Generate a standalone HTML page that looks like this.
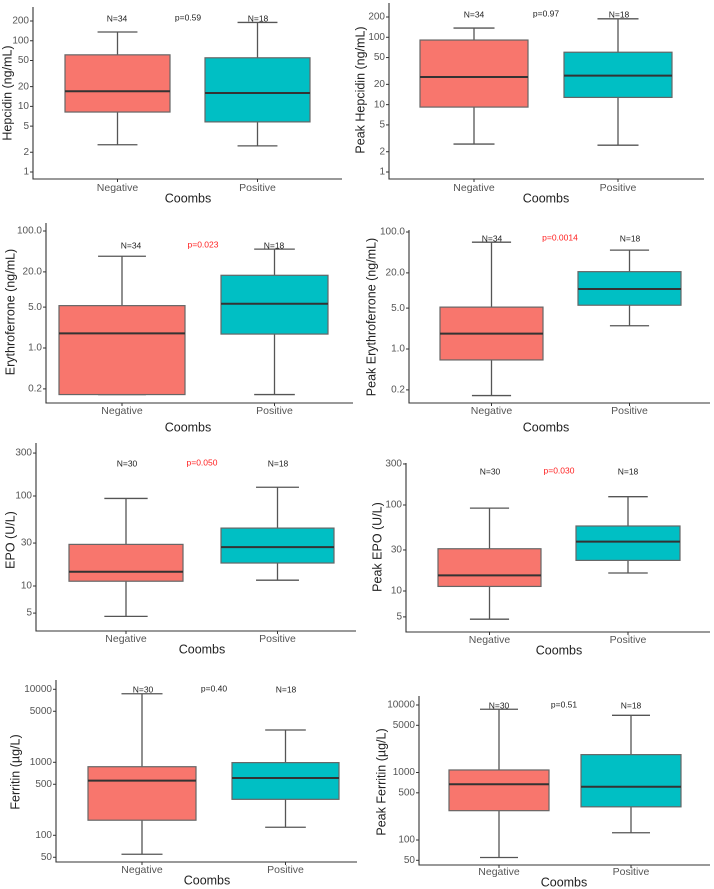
<!DOCTYPE html>
<html><head><meta charset="utf-8">
<style>
html,body{margin:0;padding:0;background:#fff;}
svg{display:block;font-family:"Liberation Sans",Arial,sans-serif;}
</style></head>
<body>
<svg id="fig" width="714" height="889" viewBox="0 0 714 889"></svg>
<script>
// ---- data: [lowerWhisker, Q1, median, Q3, upperWhisker] ----
const categories = ["Negative", "Positive"];
const hepcidinNeg = [2.6, 8.2, 17, 61, 136];
const hepcidinPos = [2.5, 5.8, 16, 55, 190];
const peakHepcidinNeg = [2.6, 9.2, 25.7, 91, 137];
const peakHepcidinPos = [2.5, 12.8, 27, 60, 188];
const erfeNeg = [0.16, 0.16, 1.78, 5.3, 37];
const erfePos = [0.16, 1.73, 5.7, 17.5, 49];
const peakErfeNeg = [0.16, 0.65, 1.83, 5.2, 67];
const peakErfePos = [2.5, 5.6, 10.6, 21, 49];
const epoNeg = [4.6, 11.3, 14.4, 29, 94];
const epoPos = [11.6, 18, 27, 44, 125];
const peakEpoNeg = [4.7, 11.3, 15.2, 31, 92];
const peakEpoPos = [16.2, 22.7, 37.5, 57, 125];
const ferritinNeg = [55, 161, 560, 870, 8700];
const ferritinPos = [129, 311, 610, 990, 2770];
const peakFerritinNeg = [55, 272, 670, 1090, 8640];
const peakFerritinPos = [128, 310, 615, 1840, 7030];
const hepTicks = [1, 2, 5, 10, 20, 50, 100, 200];
const erfeTicks = [0.2, 1, 5, 20, 100];
const epoTicks = [5, 10, 30, 100, 300];
const ferTicks = [50, 100, 500, 1000, 5000, 10000];
const nLabels = ["N=34", "N=18"];
const nLabelsEpo = ["N=30", "N=18"];
const pValues = ["p=0.59", "p=0.97", "p=0.023", "p=0.0014", "p=0.050", "p=0.030", "p=0.40", "p=0.51"];

const panels = [
 {id:"hepcidin",title:"Hepcidin (ng/mL)",neg:hepcidinNeg,pos:hepcidinPos,ticks:hepTicks,fmt:v=>String(v),
  ax:33,top:7,bot:179,right:342,r1:[1,172],r2:[200,21],nb:[65,170],pb:[205,310],
  ly:19,lx:[117,258],px:188,pc:"#222",p:pValues[0],n:nLabels,xly:188,cx:188,cy:199,tx:8,ty:93},
 {id:"peak-hepcidin",title:"Peak Hepcidin (ng/mL)",neg:peakHepcidinNeg,pos:peakHepcidinPos,ticks:hepTicks,fmt:v=>String(v),
  ax:389,top:3,bot:179,right:704,r1:[1,172],r2:[200,17],nb:[420,528],pb:[564,672],
  ly:15,lx:[474,619],px:546,pc:"#222",p:pValues[1],n:nLabels,xly:188,cx:546,cy:199,tx:361,ty:90},
 {id:"erythroferrone",title:"Erythroferrone (ng/mL)",neg:erfeNeg,pos:erfePos,ticks:erfeTicks,fmt:v=>v.toFixed(1),
  ax:46,top:223,bot:403,right:353,r1:[1,348],r2:[100,231],nb:[59,185],pb:[221,328],
  ly:246,lx:[131,274],px:203,pc:"#ff2020",p:pValues[2],n:nLabels,xly:411,cx:188,cy:428,tx:11,ty:312},
 {id:"peak-erythroferrone",title:"Peak Erythroferrone (ng/mL)",neg:peakErfeNeg,pos:peakErfePos,ticks:erfeTicks,fmt:v=>v.toFixed(1),
  ax:409,top:230,bot:403,right:710,r1:[1,349],r2:[100,232],nb:[440,543],pb:[578,681],
  ly:239,lx:[492,630],px:560,pc:"#ff2020",p:pValues[3],n:nLabels,xly:411,cx:546,cy:428,tx:372,ty:317},
 {id:"epo",title:"EPO (U/L)",neg:epoNeg,pos:epoPos,ticks:epoTicks,fmt:v=>String(v),
  ax:36,top:443,bot:631,right:356,r1:[10,586],r2:[100,496],nb:[69,183],pb:[221,334],
  ly:464,lx:[127,278],px:202,pc:"#ff2020",p:pValues[4],n:nLabelsEpo,xly:639,cx:202,cy:650,tx:11,ty:540},
 {id:"peak-epo",title:"Peak EPO (U/L)",neg:peakEpoNeg,pos:peakEpoPos,ticks:epoTicks,fmt:v=>String(v),
  ax:406,top:463,bot:632,right:710,r1:[10,591],r2:[100,505],nb:[438,541],pb:[576,680],
  ly:472,lx:[490,628],px:559,pc:"#ff2020",p:pValues[5],n:nLabelsEpo,xly:640,cx:559,cy:651,tx:378,ty:547},
 {id:"ferritin",title:"Ferritin (µg/L)",neg:ferritinNeg,pos:ferritinPos,ticks:ferTicks,fmt:v=>String(v),
  ax:56,top:680,bot:862,right:357,r1:[100,835.3],r2:[10000,689.3],nb:[88,196],pb:[232,339],
  ly:690,lx:[143,286],px:214,pc:"#222",p:pValues[6],n:nLabelsEpo,xly:870,cx:207,cy:881,tx:16,ty:772},
 {id:"peak-ferritin",title:"Peak Ferritin (µg/L)",neg:peakFerritinNeg,pos:peakFerritinPos,ticks:ferTicks,fmt:v=>String(v),
  ax:419,top:696,bot:865,right:710,r1:[100,840],r2:[10000,705],nb:[449,549],pb:[581,681],
  ly:706,lx:[499,631],px:564,pc:"#222",p:pValues[7],n:nLabelsEpo,xly:872,cx:564,cy:883,tx:382,ty:782}
];

const NS = "http://www.w3.org/2000/svg";
const svg = document.getElementById("fig");
function mk(tag, attrs, parent) {
  const e = document.createElementNS(NS, tag);
  for (const k in attrs) e.setAttribute(k, attrs[k]);
  (parent || svg).appendChild(e);
  return e;
}
function txt(s, attrs, parent) { const e = mk("text", attrs, parent); e.textContent = s; return e; }

panels.forEach(P => {
  const g = mk("g", {});
  
  
  const l1 = Math.log10(P.r1[0]), l2 = Math.log10(P.r2[0]);
  const yScale = v => P.r1[1] + (Math.log10(v) - l1) * (P.r2[1] - P.r1[1]) / (l2 - l1);

  [P.neg, P.pos].forEach((d, i) => {
    const bx = i === 0 ? P.nb : P.pb;
    const cxm = (bx[0] + bx[1]) / 2, w = bx[1] - bx[0], cap = w * 0.19;
    const bg = mk("g", {}, g);
    
    
    const st = {stroke:"#555", "stroke-width":1.3};
    mk("line", Object.assign({x1:cxm, x2:cxm, y1:yScale(d[4]), y2:yScale(d[3])}, st), bg);
    mk("line", Object.assign({x1:cxm, x2:cxm, y1:yScale(d[1]), y2:yScale(d[0])}, st), bg);
    mk("line", Object.assign({x1:cxm-cap, x2:cxm+cap, y1:yScale(d[4]), y2:yScale(d[4])}, st), bg);
    mk("line", Object.assign({x1:cxm-cap, x2:cxm+cap, y1:yScale(d[0]), y2:yScale(d[0])}, st), bg);
    mk("rect", {x:bx[0], y:yScale(d[3]), width:w, height:yScale(d[1]) - yScale(d[3]),
      fill: i === 0 ? "#F8766D" : "#00BFC4", stroke:"#666", "stroke-width":1.2}, bg);
    mk("line", {x1:bx[0], x2:bx[1], y1:yScale(d[2]), y2:yScale(d[2]), stroke:"#333", "stroke-width":2}, bg);
    const xl = txt(categories[i], {x:cxm, y:P.xly, "text-anchor":"middle", "dominant-baseline":"middle", "font-size":10.5, fill:"#555"}, g);
    
    
    mk("line", {x1:cxm, x2:cxm, y1:P.bot, y2:P.bot+3, stroke:"#333", "stroke-width":1}, g);
    const nl = txt(P.n[i], {x:P.lx[i], y:P.ly, "text-anchor":"middle", "dominant-baseline":"middle", "font-size":8.5, fill:"#222"}, g);
    
    
  });

  const ax = mk("path", {d:`M${P.ax},${P.top} V${P.bot} H${P.right}`, fill:"none", stroke:"#333", "stroke-width":1.1}, g);
  
  
  P.ticks.forEach(t => {
    const y = yScale(t);
    mk("line", {x1:P.ax-3, x2:P.ax, y1:y, y2:y, stroke:"#333", "stroke-width":1}, g);
    const tl = txt(P.fmt(t), {x:P.ax-4, y:y, "text-anchor":"end", "dominant-baseline":"middle", "font-size":10, fill:"#555"}, g);
    
    
  });
  const pl = txt(P.p, {x:P.px, y:P.ly - 1, "text-anchor":"middle", "dominant-baseline":"middle", "font-size":8.5, fill:P.pc}, g);
  
  
  const xt = txt("Coombs", {x:P.cx, y:P.cy, "text-anchor":"middle", "dominant-baseline":"middle", "font-size":12.5, fill:"#222"}, g);
  
  
  const yt = txt(P.title, {x:0, y:0, "text-anchor":"middle", "dominant-baseline":"middle", "font-size":12.5, fill:"#222",
    transform:`translate(${P.tx},${P.ty}) rotate(-90)`}, g);
  
  
});
</script>
</body></html>
